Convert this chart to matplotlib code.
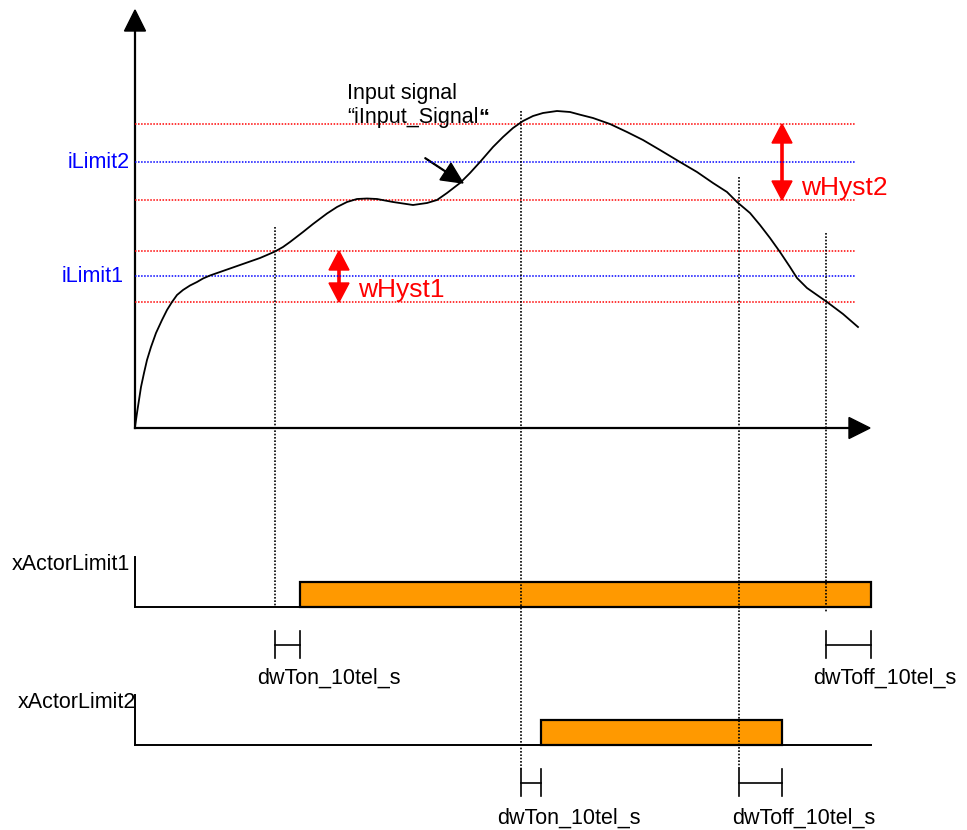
import matplotlib.pyplot as plt

plt.rcParams['font.family'] = ['Liberation Sans', 'DejaVu Sans']

# input signal (x = time, y = level, screen units, y grows downward)
curve_x = [135, 137, 139, 141, 144, 147, 151, 156, 162, 167, 172, 177, 183, 190,
           197, 203, 210, 220, 230, 240, 250, 260, 267, 275, 283, 290, 303, 313,
           327, 337, 347, 357, 367, 377, 393, 413, 427, 437, 447, 460, 470, 480,
           493, 503, 513, 523, 533, 543, 557, 570, 580, 593, 610, 627, 643, 660,
           680, 697, 713, 727, 737, 750, 760, 770, 780, 790, 797, 807, 817, 827,
           843, 858]
curve_y = [427, 413, 400, 387, 373, 360, 347, 333, 320, 310, 302, 295, 290, 285.5,
           282, 278.5, 275.5, 272, 268.5, 265, 261.5, 258, 255, 251.5, 247, 242, 232, 224,
           213.5, 207, 202, 199, 198.5, 199, 202, 205, 203, 200, 193, 183, 173, 162,
           147, 137, 128, 121, 116, 113, 111, 112, 114.7, 118, 124, 132, 140, 150,
           162, 172, 183, 192, 202, 213, 225, 238, 252, 267, 278, 288, 295, 302,
           314, 327]

# limits and hysteresis bands
limit_names = ['iLimit1', 'iLimit2']
limit_levels = [276, 162]
hyst_names = ['wHyst1', 'wHyst2']
hyst_top = [251, 124]
hyst_bottom = [302, 200]
hyst_arrow_x = [339, 782]

# switching: threshold crossing and output edge after delay
actor_names = ['xActorLimit1', 'xActorLimit2']
actor_base = [607, 745]
cross_on = [275, 521]
switch_on = [300, 541]
cross_off = [826, 739]
switch_off = [871, 782]
cross_top = [[227, 233], [111, 177]]   # top of dotted marker for on / off crossing

x0, x_end = 135, 871
bar_h = 25
red, blue, orange = '#ff0000', '#0000ff', '#ff9900'
fs = 15.5

fig = plt.figure(figsize=(9.67, 8.3), dpi=100)
ax = fig.add_axes([0, 0, 1, 1])
ax.set_xlim(0, 967)
ax.set_ylim(830, 0)
ax.axis('off')

# axes of the signal plot
ax.plot([x0, x0], [428, 30], color='black', lw=1.6)
ax.plot([x0, 850], [428, 428], color='black', lw=1.6)
ax.arrow(x0, 32, 0, -22, width=0, head_width=21, head_length=21,
         length_includes_head=True, fc='black', ec='black')
ax.arrow(848, 428, 22, 0, width=0, head_width=21, head_length=21,
         length_includes_head=True, fc='black', ec='black')

# hysteresis band lines
dots = (0, (1, 1))
label_right = [124, 130]
for lvl, top, bot, name, xr in zip(limit_levels, hyst_top, hyst_bottom, limit_names, label_right):
    ax.plot([x0, 856], [top, top], color=red, lw=1.1, ls=dots)
    ax.plot([x0, 856], [bot, bot], color=red, lw=1.1, ls=dots)
    ax.plot([x0, 856], [lvl, lvl], color=blue, lw=1.1, ls=dots)
    ax.text(xr, lvl, name, color=blue, fontsize=fs, ha='right', va='center')

# hysteresis double arrows
for hx, top, bot, name in zip(hyst_arrow_x, hyst_top, hyst_bottom, hyst_names):
    mid = (top + bot) / 2
    for end in (top, bot):
        ax.arrow(hx, mid, 0, end - mid, width=2.2, head_width=20, head_length=19,
                 length_includes_head=True, fc=red, ec=red)
    ax.text(hx + 19, bot - 12, name, color=red, fontsize=19, ha='left', va='center')

# signal
ax.plot(curve_x, curve_y, color='black', lw=1.3, solid_joinstyle='round')
ax.text(347, 93, 'Input signal', fontsize=fs, ha='left', va='center')
t2 = ax.text(347, 118, '\u201ciInput_Signal', fontsize=fs, ha='left', va='center')
bb = t2.get_window_extent(renderer=fig.canvas.get_renderer())
x_after = ax.transData.inverted().transform((bb.x1, bb.y0))[0]
ax.text(x_after, 118, '\u201c', fontsize=fs, fontweight='bold', ha='left', va='center')
ax.arrow(425, 158, 38, 25, width=0.8, head_width=20, head_length=21,
         length_includes_head=True, fc='black', ec='black')

# vertical dotted markers
dot = dict(color='black', lw=1.2, ls=dots)
ax.plot([cross_on[0]] * 2, [cross_top[0][0], actor_base[0]], **dot)
ax.plot([cross_off[0]] * 2, [cross_top[0][1], actor_base[0] + 5], **dot)
ax.plot([cross_on[1]] * 2, [cross_top[1][0], 770], **dot)
ax.plot([cross_off[1]] * 2, [cross_top[1][1], 770], **dot)

# actor outputs
for i, (name, base) in enumerate(zip(actor_names, actor_base)):
    ax.plot([x0, x0], [base - 50, base], color='black', lw=1.4)
    ax.plot([x0, x_end], [base, base], color='black', lw=1.4)
    ax.barh(base - bar_h, switch_off[i] - switch_on[i], height=bar_h,
            left=switch_on[i], align='edge', color=orange, edgecolor='black', lw=1.6)
    ax.text(x0 - 5 + 6 * i, base - 43, name, fontsize=fs, ha='right', va='center')

# delay brackets
br_y = [645, 783]
label_y = [678, 818]
on_label_x = [257, 497]
off_label_x = [813, 732]
for i in range(2):
    y = br_y[i]
    for a, b, lab, lx in [(cross_on[i], switch_on[i], 'dwTon_10tel_s', on_label_x[i]),
                          (cross_off[i], switch_off[i], 'dwToff_10tel_s', off_label_x[i])]:
        ax.plot([a, b], [y, y], color='black', lw=1.2)
        ax.plot([a, a], [y - 14, y + 13], color='black', lw=1.2)
        ax.plot([b, b], [y - 14, y + 13], color='black', lw=1.2)
        ax.text(lx, label_y[i], lab, fontsize=fs, ha='left', va='center')

fig.savefig('out.png', dpi=100)
